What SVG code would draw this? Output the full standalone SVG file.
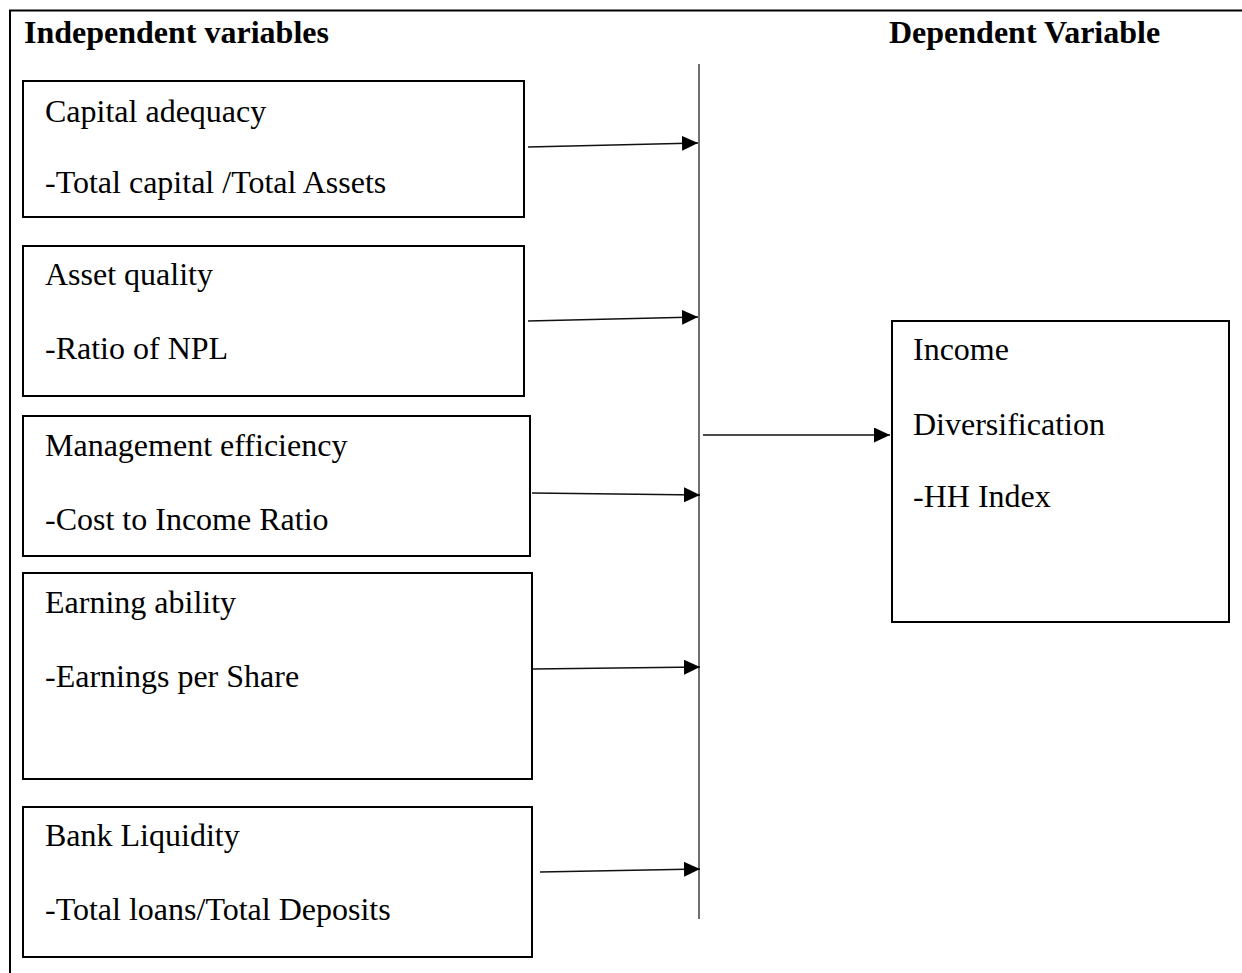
<svg xmlns="http://www.w3.org/2000/svg" width="1242" height="973" viewBox="0 0 1242 973">
<style>
  .box { fill: #ffffff; stroke: #000000; stroke-width: 2; }
  .frame { fill: none; stroke: #000000; stroke-width: 2; }
  .t { font-family: "Liberation Serif", "Times New Roman", serif; font-size: 32px; fill: #000000; }
  .h { font-family: "Liberation Serif", "Times New Roman", serif; font-size: 32px; font-weight: bold; fill: #000000; }
  .conn { fill: none; stroke: #111111; stroke-width: 1.3; }
  .bar { fill: none; stroke: #222222; stroke-width: 1.3; }
</style>
<defs>
  <marker id="arrow" markerUnits="userSpaceOnUse" markerWidth="16" markerHeight="15" refX="16" refY="7.5" orient="auto" viewBox="0 0 16 15">
    <path d="M0,0 L16,7.5 L0,15 Z" fill="#000000"/>
  </marker>
</defs>
<rect width="1242" height="973" fill="#ffffff"/>
<g id="frame">
  <path class="frame" d="M1242,10.5 L10,10.5 L10,973"/>
  <text class="h" x="24" y="43">Independent variables</text>
  <text class="h" x="889" y="43">Dependent Variable</text>
</g>
<g id="node-capital">
  <rect class="box" x="23" y="81" width="501" height="136"/>
  <text class="t" x="45" y="122">Capital adequacy</text>
  <text class="t" x="45" y="193">-Total capital /Total Assets</text>
</g>
<g id="node-asset">
  <rect class="box" x="23" y="246" width="501" height="150"/>
  <text class="t" x="45" y="285">Asset quality</text>
  <text class="t" x="45" y="359">-Ratio of NPL</text>
</g>
<g id="node-management">
  <rect class="box" x="23" y="416" width="507" height="140"/>
  <text class="t" x="45" y="456">Management efficiency</text>
  <text class="t" x="45" y="530">-Cost to Income Ratio</text>
</g>
<g id="node-earning">
  <rect class="box" x="23" y="573" width="509" height="206"/>
  <text class="t" x="45" y="613">Earning ability</text>
  <text class="t" x="45" y="687">-Earnings per Share</text>
</g>
<g id="node-liquidity">
  <rect class="box" x="23" y="807" width="509" height="150"/>
  <text class="t" x="45" y="846">Bank Liquidity</text>
  <text class="t" x="45" y="920">-Total loans/Total Deposits</text>
</g>
<g id="node-income">
  <rect class="box" x="892" y="321" width="337" height="301"/>
  <text class="t" x="913" y="360">Income</text>
  <text class="t" x="913" y="435">Diversification</text>
  <text class="t" x="913" y="507">-HH Index</text>
</g>
<g id="connectors">
  <line class="bar" x1="699" y1="64" x2="699" y2="919"/>
  <line class="conn" x1="528" y1="147" x2="698" y2="143" marker-end="url(#arrow)"/>
  <line class="conn" x1="528" y1="321" x2="698" y2="317" marker-end="url(#arrow)"/>
  <line class="conn" x1="532" y1="493" x2="700" y2="495" marker-end="url(#arrow)"/>
  <line class="conn" x1="533" y1="669" x2="700" y2="667" marker-end="url(#arrow)"/>
  <line class="conn" x1="540" y1="872" x2="700" y2="869" marker-end="url(#arrow)"/>
  <line class="conn" x1="703" y1="435" x2="890" y2="435" marker-end="url(#arrow)"/>
</g>
</svg>
